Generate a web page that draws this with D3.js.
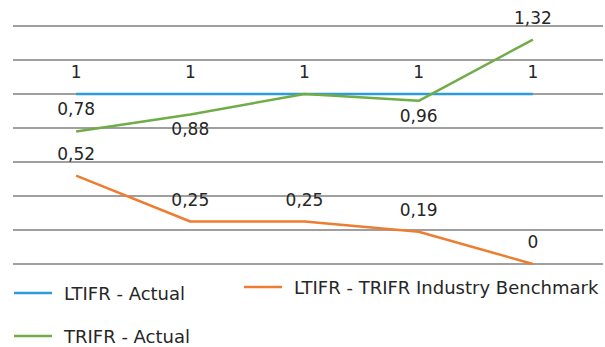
<!DOCTYPE html>
<html>
<head>
<meta charset="utf-8">
<script src="https://cdn.jsdelivr.net/npm/d3@7"></script>
<style>
  html, body { margin: 0; padding: 0; background: #fff; }
  svg text { font-family: "DejaVu Sans", "Open Sans", sans-serif; fill: #262626; }
</style>
</head>
<body>
<svg id="chart" width="605" height="347"></svg>
<script>
// Five reporting periods (unlabelled on the axis)
const periods = ["P1", "P2", "P3", "P4", "P5"];

const ltifrActual = [1, 1, 1, 1, 1];
const trifrActual = [0.78, 0.88, 1, 0.96, 1.32];
const benchmark = [0.52, 0.25, 0.25, 0.19, 0];

// where each data label sits relative to its point
const ltifrLabelPos = ["above", "above", "above", "above", "above"];
const trifrLabelPos = ["above", "below", "none", "below", "above"];
const benchLabelPos = ["above", "above", "above", "above", "above"];

const gridTicks = [0, 0.2, 0.4, 0.6, 0.8, 1, 1.2, 1.4];

const series = [
  { name: "LTIFR - Actual", values: ltifrActual, color: "#2f9bdc", labels: ltifrLabelPos },
  { name: "LTIFR - TRIFR Industry Benchmark", values: benchmark, color: "#ed7d31", labels: benchLabelPos },
  { name: "TRIFR - Actual", values: trifrActual, color: "#70ad47", labels: trifrLabelPos }
];

const svg = d3.select("#chart");
const plot = { left: 19, right: 590, top: 26, bottom: 264 };

const x = d3.scalePoint().domain(periods).range([plot.left, plot.right]).padding(0.5);
const y = d3.scaleLinear().domain([0, 1.4]).range([plot.bottom, plot.top]);

const fmt = v => String(v).replace(".", ",");

// horizontal gridlines
svg.append("g")
  .selectAll("line")
  .data(gridTicks)
  .join("line")
  .attr("x1", 13).attr("x2", 603)
  .attr("y1", d => y(d)).attr("y2", d => y(d))
  .attr("stroke", "#7f7f7f")
  .attr("stroke-width", 1.5);

const line = d3.line()
  .x((d, i) => x(periods[i]))
  .y(d => y(d));

series.forEach(s => {
  svg.append("path")
    .datum(s.values)
    .attr("d", line)
    .attr("fill", "none")
    .attr("stroke", s.color)
    .attr("stroke-width", 2.5)
    .attr("stroke-linejoin", "round");
});

// data labels
series.forEach(s => {
  svg.append("g")
    .selectAll("text")
    .data(s.values.map((v, i) => ({ v, i, pos: s.labels[i] })).filter(d => d.pos !== "none"))
    .join("text")
    .attr("x", d => x(periods[d.i]))
    .attr("y", d => y(d.v) + (d.pos === "above" ? -16 : 21))
    .attr("text-anchor", "middle")
    .attr("font-size", 17)
    .text(d => fmt(d.v));
});

// legend
const legendItems = [
  { s: series[0], x: 14, y: 293 },
  { s: series[1], x: 244, y: 287 },
  { s: series[2], x: 14, y: 336 }
];
const lg = svg.append("g");
legendItems.forEach(it => {
  lg.append("line")
    .attr("x1", it.x).attr("x2", it.x + 38)
    .attr("y1", it.y).attr("y2", it.y)
    .attr("stroke", it.s.color)
    .attr("stroke-width", 2.5);
  lg.append("text")
    .attr("x", it.x + 50)
    .attr("y", it.y + 6.5)
    .attr("font-size", 18)
    .text(it.s.name);
});
</script>
</body>
</html>
